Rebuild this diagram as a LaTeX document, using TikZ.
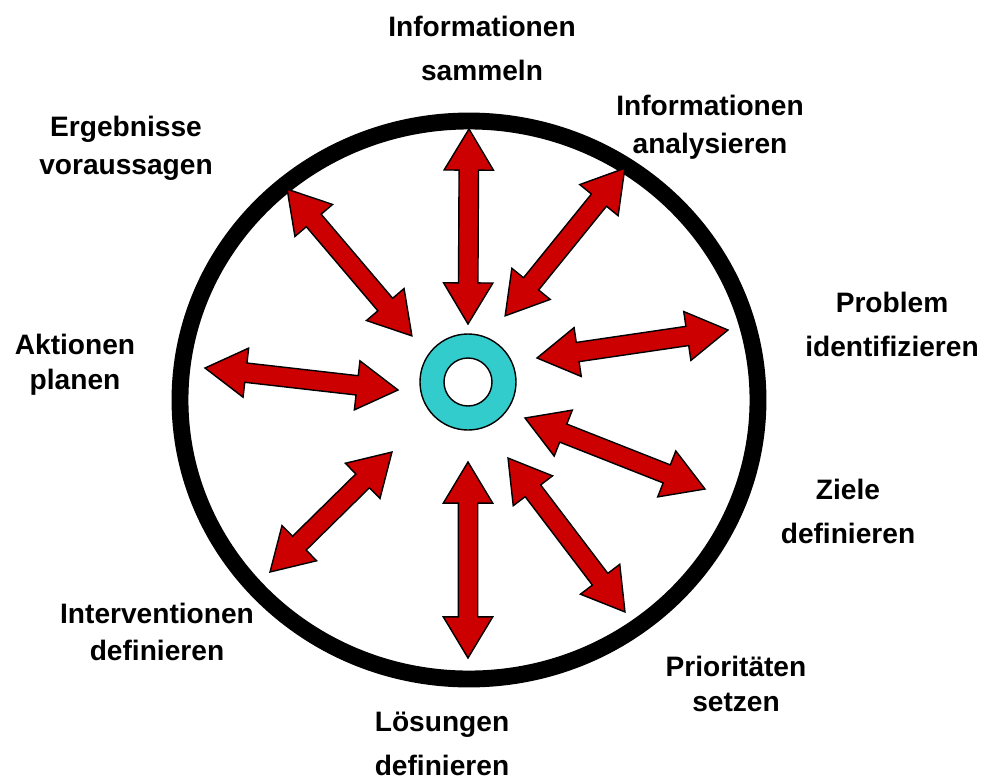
\documentclass[tikz,border=0pt]{standalone}
\usepackage{fontspec}
\setmainfont{Liberation Sans}
\usepackage{tikz}
\usetikzlibrary{shapes.arrows, calc}
\definecolor{arrred}{RGB}{204,0,0}
\definecolor{hubcyan}{RGB}{51,204,204}

\begin{document}
\begin{tikzpicture}[x=0.2mm, y=-0.2mm,
  lbl/.style={font=\bfseries\fontsize{16}{#1}\selectfont, align=center, inner sep=0pt},
  lbl/.default=21.5pt,
  dbl/.style={double arrow, draw=black, line width=0.8pt, fill=arrred,
              inner xsep=0pt, inner ysep=0.18cm, minimum width=0.96cm,
              double arrow head extend=0.3cm, double arrow tip angle=62},
  ring/.style={draw=black, line width=9.6pt}]
  \useasboundingbox (0,0) rectangle (988,783);
  % outer ring and hub
  \draw[ring] (469,400) ellipse [x radius=289, y radius=279];
  \node[circle, draw=black, line width=0.8pt, fill=hubcyan, minimum size=1.92cm, inner sep=0pt] (hub) at (468,382) {};
  \node[circle, draw=black, line width=0.8pt, fill=white, minimum size=0.96cm, inner sep=0pt] (hole) at (hub) {};
  % labels
  \node[lbl=25pt] (sam) at (482,48) {Informationen\\sammeln};
  \node[lbl] (ana) at (710,127) {Informationen\\analysieren};
  \node[lbl=25pt] (prob) at (892,324) {Problem\\identifizieren};
  \node[lbl=25pt] (ziel) at (848,511) {Ziele\\definieren};
  \node[lbl=19.8pt] (prio) at (736,684) {Prioritäten\\setzen};
  \node[lbl=25pt] (loes) at (442,744) {Lösungen\\definieren};
  \node[lbl] (int) at (157,632) {Interventionen\\definieren};
  \node[lbl=19.8pt] (akt) at (75,365) {Aktionen\\planen};
  \node[lbl] (erg) at (126,148) {Ergebnisse\\voraussagen};
  % double arrows between hub and ring
  \foreach \sx/\sy/\ex/\ey/\k in {468/324/469/129/sam, 505/316/625/168/ana,
      537/358/728/330/prob, 525/418/705/489/ziel, 508/458/625/612/prio,
      468/462/468/658/loes, 392/452/270/572/int, 398/390/205/368/akt,
      412/336/287/189/erg} {
    \coordinate (\k-in) at (\sx,\sy);
    \coordinate (\k-out) at (\ex,\ey);
    \path let \p1=(\k-in), \p2=(\k-out),
      \n1={atan2(\y2-\y1,\x2-\x1)}, \n2={veclen(\x2-\x1,\y2-\y1)} in
      node[dbl, rotate=\n1, minimum height=\n2] (\k-arr) at ($(\k-in)!0.5!(\k-out)$) {};
  }
\end{tikzpicture}
\end{document}
